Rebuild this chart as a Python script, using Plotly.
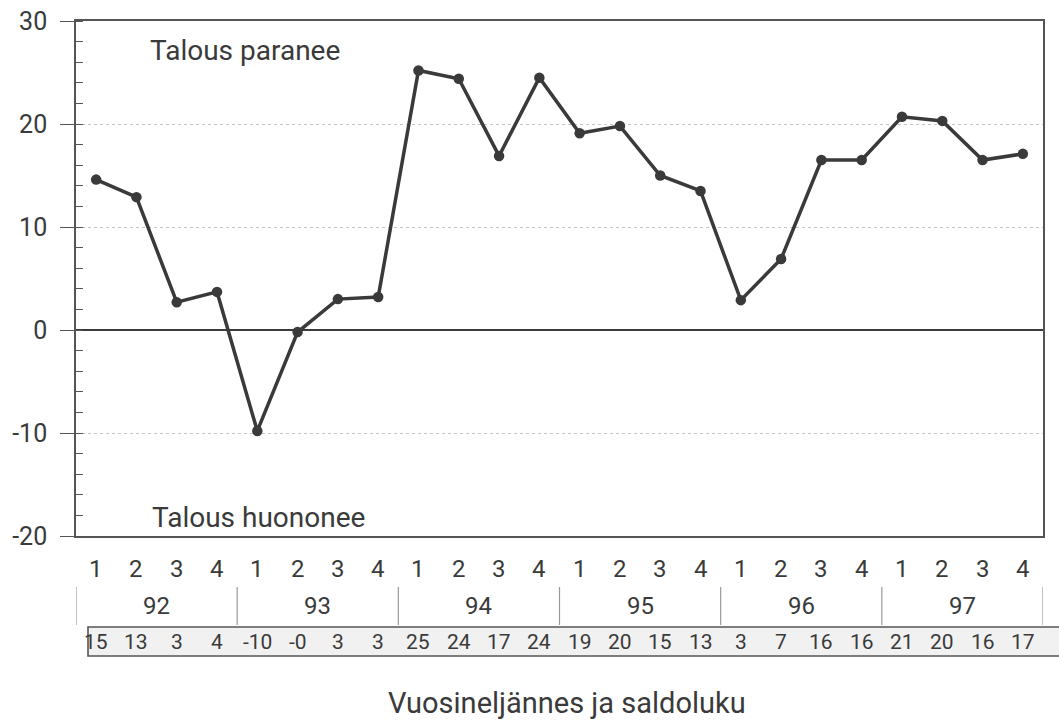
import plotly.graph_objects as go

quarters = ["1", "2", "3", "4"] * 6
years = ["92", "93", "94", "95", "96", "97"]
values = [14.6, 12.9, 2.7, 3.7, -9.8, -0.2, 3.0, 3.2, 25.2, 24.4, 16.9, 24.5,
          19.1, 19.8, 15.0, 13.5, 2.9, 6.9, 16.5, 16.5, 20.7, 20.3, 16.5, 17.1]
table_labels = ["15", "13", "3", "4", "-10", "-0", "3", "3", "25", "24", "17", "24",
                "19", "20", "15", "13", "3", "7", "16", "16", "21", "20", "16", "17"]
y_ticks = [-20, -10, 0, 10, 20, 30]
y_tick_text = ["-20", "-10", "0", "10", "20", "30"]
x_title = "Vuosineljännes ja saldoluku"
top_note = "Talous paranee"
bottom_note = "Talous huononee"

FONT = "Roboto, Liberation Sans, sans-serif"
INK = "#3a3a3a"
x = list(range(len(values)))

fig = go.Figure()
fig.add_trace(go.Scatter(
    x=x, y=values, mode="lines+markers",
    line=dict(color=INK, width=3.5),
    marker=dict(color=INK, size=10.5),
    showlegend=False, hoverinfo="x+y",
))

W, H = 1059, 722
L, R, T, B = 76, 16, 21, 186
pw, ph = W - L - R, H - T - B


def px_y(py):
    return (H - B - py) / ph


def px_x(px):
    return (px - L) / pw


def ann(xv, yv, text, size, xref="x", yref="paper"):
    return dict(x=xv, y=yv, xref=xref, yref=yref, text=text, showarrow=False,
                xanchor="center", yanchor="middle",
                font=dict(family=FONT, size=size, color=INK))


annotations = []
for i, q in enumerate(quarters):
    annotations.append(ann(i, px_y(569), q, 24))
for i, lab in enumerate(table_labels):
    annotations.append(ann(i, px_y(642), lab, 21))
for k, yr in enumerate(years):
    annotations.append(ann(4 * k + 1.5, px_y(606), yr, 24))
annotations.append(ann(px_x(567), px_y(703), x_title, 29, xref="paper"))
annotations.append(ann(px_x(245), px_y(50), top_note, 28, xref="paper"))
annotations.append(ann(px_x(258), px_y(517), bottom_note, 28, xref="paper"))

shapes = []
for k in range(len(years) + 1):
    shapes.append(dict(type="line", xref="x", yref="paper", x0=4 * k - 0.5, x1=4 * k - 0.5,
                       y0=px_y(587), y1=px_y(625), line=dict(color="#9a9a9a", width=1.2)))
shapes.append(dict(type="rect", xref="paper", yref="paper",
                   x0=px_x(88), x1=px_x(1064), y0=px_y(656), y1=px_y(627),
                   fillcolor="#f1f1f1", line=dict(color="#555", width=1.6), layer="below"))

fig.update_layout(
    width=W, height=H,
    margin=dict(l=L, r=R, t=T, b=B, autoexpand=False),
    paper_bgcolor="white", plot_bgcolor="white",
    annotations=annotations, shapes=shapes,
    font=dict(family=FONT, color=INK),
)
fig.update_xaxes(
    range=[-0.5, 23.5], showgrid=False, zeroline=False,
    showline=True, mirror=True, linecolor="#555", linewidth=1.6,
    showticklabels=False, ticks="",
)
fig.update_yaxes(
    range=[-20, 30], tickvals=y_ticks, ticktext=y_tick_text,
    showgrid=True, gridcolor="#c4c4c4", griddash="dot", gridwidth=1,
    zeroline=True, zerolinecolor=INK, zerolinewidth=1.6,
    showline=True, mirror=True, linecolor="#555", linewidth=1.6,
    ticks="outside", ticklen=14, tickcolor="#555", tickwidth=1.4,
    ticklabelstandoff=8,
    minor=dict(ticks="inside", dtick=2, ticklen=7, tickcolor="#555", tickwidth=1.2, showgrid=False),
    tickfont=dict(family=FONT, size=25, color=INK),
)

fig.write_html("out.html", config={"displayModeBar": False},
               post_script="document.body.style.margin='0';")
